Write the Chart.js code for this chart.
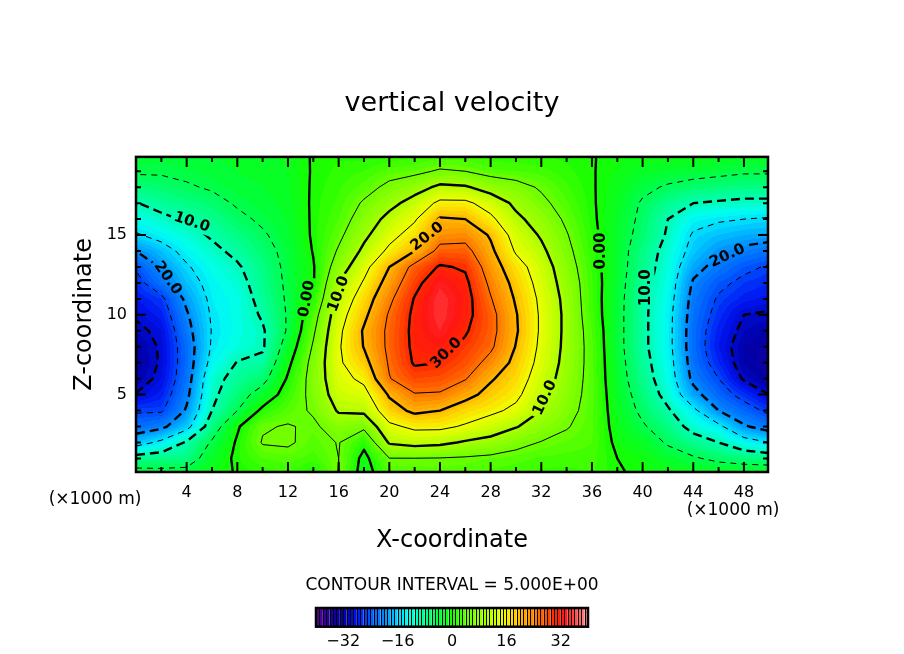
<!DOCTYPE html>
<html>
<head>
<meta charset="utf-8">
<title>vertical velocity</title>
<script src="https://cdn.jsdelivr.net/npm/chart.js@4.4.1/dist/chart.umd.min.js"></script>
<style>
  html, body { margin: 0; padding: 0; background: #fff; }
</style>
</head>
<body>
<canvas id="w_chart" width="904" height="654"></canvas>
<script>
// grid of the field: x every 2 km, z every 1 km (values in m/s)
const xGrid = [0, 2, 4, 6, 8, 10, 12, 14, 16, 18, 20, 22, 24, 26, 28, 30, 32, 34, 36, 38, 40, 42, 44, 46, 48, 50];
const zGrid = [0, 1, 2, 3, 4, 5, 6, 7, 8, 9, 10, 11, 12, 13, 14, 15, 16, 17, 18, 19, 20];

const wz00 = [-3, -3.5, -3, -1, 0.2, 1, 2, -0.5, 5.2, -2, 3, 3, 3.5, 3, 2.5, 2, 1.5, 1.5, 2, 0.3, -0.5, -1, -1, -1.5, -1.5, -1.5];
const wz01 = [-8, -7.5, -7.5, -2.5, 0.8, 3, 3.5, 2.5, 5, -1.2, 4.9, 4.9, 4.8, 4.5, 4, 3.5, 2.8, 2.5, 2.5, 0, -1, -3, -4.5, -6, -7, -7.5];
const wz02 = [-17, -14, -9.5, -4.5, 0.5, 5.3, 5.6, 3.5, 5.2, 1, 10.5, 11.5, 11, 9.5, 8.5, 6.3, 4.8, 3.8, 3, -0.8, -2.5, -5.5, -8, -10, -13, -15];
const wz03 = [-22.5, -21, -16.5, -7.5, -0.5, 4.6, 5.3, 4.3, 7, 6, 14, 16, 16, 14.5, 12.5, 10.3, 7.5, 5.3, 3.2, -1.5, -4.5, -7.5, -11.5, -14, -19.5, -22];
const wz04 = [-25.5, -25.5, -19.5, -10, -5, 1, 3.5, 5.5, 10.5, 11, 18, 21, 20, 17.5, 16, 14, 10, 6.5, 3.3, -2, -6, -9.5, -14, -20, -23, -26];
const wz05 = [-29.8, -27.5, -21, -11, -7, -3, 2, 6.3, 12.5, 13.5, 20.5, 24.7, 24.5, 21.5, 18.5, 16, 11.5, 7.3, 3.4, -2.5, -7, -11.5, -18.5, -23, -26.5, -30];
const wz06 = [-32, -29, -22, -11.5, -8.5, -6.5, 0.5, 6.8, 13.5, 16, 24.8, 28, 27.5, 25.3, 20.5, 17.5, 12.5, 8, 3.4, -3, -8, -12.5, -21, -25, -30.5, -33];
const wz07 = [-33, -29.5, -22.5, -13.5, -9.8, -9, -1, 6.5, 14.3, 18.5, 25.5, 30.5, 30, 27.5, 23.5, 18.7, 13.5, 8.5, 3.4, -3.3, -8.5, -13, -22, -27, -32, -34];
const wz08 = [-32.5, -29.5, -22.5, -14.5, -12, -10.5, -2.8, 5.5, 14.5, 20.2, 26, 31, 32, 29, 25.8, 19.8, 14, 8.8, 3.3, -3.6, -9, -13.5, -22.5, -28, -32, -33.5];
const wz09 = [-31, -29, -21.5, -14.8, -12.5, -10.5, -4.5, 4.3, 14, 20.5, 26, 31.2, 34, 30.5, 26.5, 20.5, 14.3, 8.9, 3, -3.6, -9, -13.5, -22.5, -27.5, -31, -32];
const wz10 = [-29.5, -27.5, -20.5, -14.5, -12.5, -9.5, -4.6, 3, 13, 19, 25.5, 31, 35, 31.5, 26.5, 20.3, 14.3, 8.9, 2.4, -3.6, -9, -13.5, -22, -26.5, -30, -30.5];
const wz11 = [-28, -26, -19, -14, -12.5, -8.5, -4.4, 1, 11.5, 17.5, 24, 30.3, 35, 31.8, 25.3, 19.5, 14, 8.6, 2.2, -3.5, -9, -13, -21.5, -25.5, -27.5, -28.5];
const wz12 = [-26.5, -22, -17, -13.5, -11.5, -8, -4.2, -0.3, 10, 15.5, 22, 28.5, 33.5, 31, 24, 18.5, 13.2, 8, 2.2, -3.3, -8.5, -12.5, -20.5, -24, -26, -27];
const wz13 = [-24.5, -19.5, -15.5, -12.5, -10.5, -7.5, -4, -0.3, 7.5, 13.5, 20, 26.5, 30.5, 29.5, 22.5, 17, 12.5, 7.2, 1.8, -3, -8, -12, -18.5, -21.5, -24, -25.5];
const wz14 = [-20, -17, -13.5, -11, -9, -6.5, -3.8, 0.2, 5.5, 11, 16, 20, 26.5, 26.5, 21, 14.5, 11, 6.2, 1.4, -3, -7.5, -11.5, -16.5, -19.5, -21, -22];
const wz15 = [-15.5, -13.5, -11.5, -9.5, -7.5, -5.5, -3.2, 0.5, 4, 9, 13.5, 17, 23, 23.5, 19.5, 13, 9.5, 5.3, 1, -2.8, -6.5, -10.5, -15.5, -17, -18, -18.5];
const wz16 = [-12.5, -11, -9.5, -8, -6, -4.3, -2.8, 0.5, 3, 7, 11.5, 14.5, 20.5, 20, 16, 11, 8, 4.2, 0.6, -2.5, -6, -10, -13.5, -14.5, -15, -15.5];
const wz17 = [-10.2, -8.5, -7.5, -6.5, -4.5, -3.5, -2.5, 0.5, 2.3, 5.5, 8.5, 12, 16, 16, 13, 9, 6, 3.2, 0.4, -2.2, -5.5, -8, -10, -10.5, -11, -11];
const wz18 = [-7, -6.5, -5.5, -4.5, -3.5, -3, -2.2, 0.4, 1.8, 3.5, 6, 8, 11, 10.5, 8, 6.5, 4.5, 2.2, 0.3, -1.8, -4, -5.5, -6.5, -7, -7.5, -7.5];
const wz19 = [-4.5, -4.5, -4, -3.5, -3, -2.5, -2, 0.3, 1.3, 2, 3.5, 4, 5.5, 5, 3.5, 3, 2.5, 1.3, 0.2, -1.2, -2.5, -3, -3.5, -4, -4.5, -4.5];
const wz20 = [-3, -3.5, -3.5, -3, -2.5, -2.2, -1.8, 0.3, 0.8, 0.5, 1, 1.5, 2, 2, 1, 1, 1, 0.6, 0.1, -0.5, -1, -1, -1, -1.5, -2, -2];

const wRows = [wz00, wz01, wz02, wz03, wz04, wz05, wz06, wz07, wz08, wz09, wz10,
               wz11, wz12, wz13, wz14, wz15, wz16, wz17, wz18, wz19, wz20];

const levels = [-35, -30, -25, -20, -15, -10, -5, 0, 5, 10, 15, 20, 25, 30, 35];

const xTickLabels = [4, 8, 12, 16, 20, 24, 28, 32, 36, 40, 44, 48];
const xTickMarks = [2, 4, 6, 8, 10, 12, 14, 16, 18, 20, 22, 24, 26, 28, 30, 32, 34, 36, 38, 40, 42, 44, 46, 48];
const yTickLabels = [5, 10, 15];
const yTickMarks = [1, 2, 3, 4, 5, 6, 7, 8, 9, 10, 11, 12, 13, 14, 15, 16, 17, 18, 19];
const cbTicks = [-32, -16, 0, 16, 32];

// labels written on the contour lines
const lineLabels = [
  { text: '10.0', x: 4.4, z: 15.8, angle: 18 },
  { text: '20.0', x: 2.5, z: 12.3, angle: 55 },
  { text: '0.00', x: 13.5, z: 11.0, angle: -80 },
  { text: '10.0', x: 16.0, z: 11.3, angle: -70 },
  { text: '20.0', x: 23.0, z: 14.9, angle: -38 },
  { text: '30.0', x: 24.5, z: 7.6, angle: -45 },
  { text: '10.0', x: 32.3, z: 4.8, angle: -65 },
  { text: '0.00', x: 36.7, z: 14.0, angle: -90 },
  { text: '10.0', x: 40.3, z: 11.7, angle: -90 },
  { text: '20.0', x: 46.7, z: 13.7, angle: -25 }
];

// colour table
const cmapVals = [-40, -36, -32, -28, -24, -20, -16, -13, -8, -4, 0, 5, 10, 15, 18, 22, 26, 30, 33, 36, 40];
const cmapR = [100, 30, 0, 0, 0, 0, 0, 0, 0, 0, 20, 110, 170, 240, 255, 255, 255, 255, 255, 255, 255];
const cmapG = [0, 0, 0, 20, 90, 140, 210, 255, 255, 255, 255, 255, 255, 255, 210, 160, 100, 40, 20, 70, 150];
const cmapB = [160, 150, 170, 240, 255, 255, 255, 240, 140, 60, 0, 0, 0, 0, 0, 0, 0, 0, 20, 70, 150];

const FONT = "'DejaVu Sans', 'Liberation Sans', sans-serif";

function rgbAt(v) {
  let k = 0;
  while (k < cmapVals.length - 2 && v > cmapVals[k + 1]) k++;
  const t = Math.max(0, Math.min(1, (v - cmapVals[k]) / (cmapVals[k + 1] - cmapVals[k])));
  return [
    Math.round(cmapR[k] + (cmapR[k + 1] - cmapR[k]) * t),
    Math.round(cmapG[k] + (cmapG[k + 1] - cmapG[k]) * t),
    Math.round(cmapB[k] + (cmapB[k + 1] - cmapB[k]) * t)
  ];
}

// one colour per unit step, -40 .. 40
const lut = [];
for (let k = 0; k < 80; k++) lut.push(rgbAt(-40 + k + 0.5));

function binColour(v) {
  let k = Math.floor(v) + 40;
  if (k < 0) k = 0;
  if (k > 79) k = 79;
  return lut[k];
}

function wAt(x, z) {
  let i = Math.floor((x - xGrid[0]) / (xGrid[1] - xGrid[0]));
  let j = Math.floor((z - zGrid[0]) / (zGrid[1] - zGrid[0]));
  i = Math.max(0, Math.min(xGrid.length - 2, i));
  j = Math.max(0, Math.min(zGrid.length - 2, j));
  const tx = (x - xGrid[i]) / (xGrid[i + 1] - xGrid[i]);
  const tz = (z - zGrid[j]) / (zGrid[j + 1] - zGrid[j]);
  const a = wRows[j][i], b = wRows[j][i + 1], c = wRows[j + 1][i], d = wRows[j + 1][i + 1];
  return (a * (1 - tx) + b * tx) * (1 - tz) + (c * (1 - tx) + d * tx) * tz;
}

// marching squares, segments chained into lines so the dashes run on
function edgePoint(key, level) {
  const p = key.split(',');
  const i = +p[1], j = +p[2];
  let x0 = xGrid[i], z0 = zGrid[j], x1, z1, v0 = wRows[j][i], v1;
  if (p[0] === 'h') { x1 = xGrid[i + 1]; z1 = z0; v1 = wRows[j][i + 1]; }
  else { x1 = x0; z1 = zGrid[j + 1]; v1 = wRows[j + 1][i]; }
  const t = (level - v0) / (v1 - v0);
  return [x0 + (x1 - x0) * t, z0 + (z1 - z0) * t];
}

function contourLines(level) {
  const segs = [];
  for (let j = 0; j < zGrid.length - 1; j++) {
    for (let i = 0; i < xGrid.length - 1; i++) {
      const v0 = wRows[j][i], v1 = wRows[j][i + 1], v2 = wRows[j + 1][i + 1], v3 = wRows[j + 1][i];
      const idx = (v0 > level ? 1 : 0) | (v1 > level ? 2 : 0) | (v2 > level ? 4 : 0) | (v3 > level ? 8 : 0);
      if (idx === 0 || idx === 15) continue;
      const E = ['h,' + i + ',' + j, 'v,' + (i + 1) + ',' + j, 'h,' + i + ',' + (j + 1), 'v,' + i + ',' + j];
      const centre = (v0 + v1 + v2 + v3) / 4 > level;
      let pairs;
      switch (idx) {
        case 1: case 14: pairs = [[3, 0]]; break;
        case 2: case 13: pairs = [[0, 1]]; break;
        case 3: case 12: pairs = [[3, 1]]; break;
        case 4: case 11: pairs = [[1, 2]]; break;
        case 6: case 9: pairs = [[0, 2]]; break;
        case 7: case 8: pairs = [[3, 2]]; break;
        case 5: pairs = centre ? [[0, 1], [2, 3]] : [[3, 0], [1, 2]]; break;
        case 10: pairs = centre ? [[3, 0], [1, 2]] : [[0, 1], [2, 3]]; break;
      }
      pairs.forEach(p => segs.push([E[p[0]], E[p[1]]]));
    }
  }
  const byKey = new Map();
  segs.forEach((s, n) => s.forEach(k => {
    if (!byKey.has(k)) byKey.set(k, []);
    byKey.get(k).push(n);
  }));
  const used = new Array(segs.length).fill(false);
  const lines = [];
  for (let n = 0; n < segs.length; n++) {
    if (used[n]) continue;
    used[n] = true;
    const chain = [segs[n][0], segs[n][1]];
    for (let dir = 0; dir < 2; dir++) {
      let grow = true;
      while (grow) {
        grow = false;
        const end = dir === 0 ? chain[chain.length - 1] : chain[0];
        for (const m of byKey.get(end)) {
          if (used[m]) continue;
          used[m] = true;
          const next = segs[m][0] === end ? segs[m][1] : segs[m][0];
          if (dir === 0) chain.push(next); else chain.unshift(next);
          grow = true;
          break;
        }
      }
    }
    lines.push(chain.map(k => edgePoint(k, level)));
  }
  return lines;
}

const contours = levels.map(l => ({ level: l, lines: contourLines(l) }));

const LABEL_FONT = 'bold 15px ' + FONT;

const fieldPlugin = {
  id: 'field',
  beforeDatasetsDraw(chart) {
    const { ctx, chartArea: a, scales: { x, y } } = chart;
    const left = Math.round(a.left), top = Math.round(a.top);
    const w = Math.round(a.right) - left, h = Math.round(a.bottom) - top;
    const img = ctx.createImageData(w, h);
    const xv = [];
    for (let px = 0; px < w; px++) xv.push(x.getValueForPixel(left + px + 0.5));
    for (let py = 0; py < h; py++) {
      const z = y.getValueForPixel(top + py + 0.5);
      for (let px = 0; px < w; px++) {
        const c = binColour(wAt(xv[px], z));
        const o = (py * w + px) * 4;
        img.data[o] = c[0];
        img.data[o + 1] = c[1];
        img.data[o + 2] = c[2];
        img.data[o + 3] = 255;
      }
    }
    ctx.putImageData(img, left, top);

    // contour lines, with gaps left for their labels
    ctx.save();
    ctx.font = LABEL_FONT;
    ctx.beginPath();
    ctx.rect(a.left, a.top, a.right - a.left, a.bottom - a.top);
    lineLabels.forEach(lb => {
      const cx = x.getPixelForValue(lb.x), cy = y.getPixelForValue(lb.z);
      const tw = ctx.measureText(lb.text).width + 6, th = 16;
      const r = lb.angle * Math.PI / 180, c = Math.cos(r), s = Math.sin(r);
      const pts = [[-tw / 2, -th / 2], [tw / 2, -th / 2], [tw / 2, th / 2], [-tw / 2, th / 2]]
        .map(([u, v]) => [cx + u * c - v * s, cy + u * s + v * c]);
      ctx.moveTo(pts[0][0], pts[0][1]);
      for (let k = 1; k < 4; k++) ctx.lineTo(pts[k][0], pts[k][1]);
      ctx.closePath();
    });
    ctx.clip('evenodd');
    ctx.strokeStyle = '#000';
    ctx.lineJoin = 'round';
    contours.forEach(ct => {
      const thick = ct.level % 10 === 0;
      ctx.lineWidth = thick ? 2.4 : 1;
      ctx.setLineDash(ct.level < 0 ? (thick ? [9, 5] : [6, 5]) : []);
      ct.lines.forEach(line => {
        ctx.beginPath();
        line.forEach((p, k) => {
          const px = x.getPixelForValue(p[0]), py = y.getPixelForValue(p[1]);
          if (k === 0) ctx.moveTo(px, py); else ctx.lineTo(px, py);
        });
        ctx.stroke();
      });
    });
    ctx.restore();

    ctx.save();
    ctx.font = LABEL_FONT;
    ctx.fillStyle = '#000';
    ctx.textAlign = 'center';
    ctx.textBaseline = 'middle';
    lineLabels.forEach(lb => {
      ctx.save();
      ctx.translate(x.getPixelForValue(lb.x), y.getPixelForValue(lb.z));
      ctx.rotate(lb.angle * Math.PI / 180);
      ctx.fillText(lb.text, 0, 0);
      ctx.restore();
    });
    ctx.restore();
  },
  afterDraw(chart) {
    const { ctx, chartArea: a, scales: { x, y } } = chart;
    ctx.save();
    ctx.strokeStyle = '#000';
    // inward tick marks on all four sides
    ctx.lineWidth = 2;
    ctx.beginPath();
    xTickMarks.forEach(v => {
      const px = x.getPixelForValue(v);
      const len = xTickLabels.includes(v) ? 10 : 5;
      ctx.moveTo(px, a.bottom); ctx.lineTo(px, a.bottom - len);
      ctx.moveTo(px, a.top); ctx.lineTo(px, a.top + len);
    });
    yTickMarks.forEach(v => {
      const py = y.getPixelForValue(v);
      const len = yTickLabels.includes(v) ? 10 : 5;
      ctx.moveTo(a.left, py); ctx.lineTo(a.left + len, py);
      ctx.moveTo(a.right, py); ctx.lineTo(a.right - len, py);
    });
    ctx.stroke();
    ctx.lineWidth = 2.5;
    ctx.strokeRect(a.left, a.top, a.right - a.left, a.bottom - a.top);

    // unit notes and contour interval
    ctx.fillStyle = '#000';
    ctx.textAlign = 'center';
    ctx.textBaseline = 'middle';
    ctx.font = '17px ' + FONT;
    ctx.fillText('(×1000 m)', a.left - 41, a.bottom + 28);
    ctx.fillText('(×1000 m)', a.right - 35, a.bottom + 39);
    const mid = (a.left + a.right) / 2;
    ctx.fillText('CONTOUR INTERVAL = 5.000E+00', mid, a.bottom + 114);

    // colour bar
    const cbW = 272, cbH = 18.7, cbL = mid - cbW / 2, cbT = a.bottom + 136;
    const step = cbW / lut.length;
    lut.forEach((c, k) => {
      ctx.fillStyle = 'rgb(' + c[0] + ',' + c[1] + ',' + c[2] + ')';
      ctx.fillRect(cbL + k * step, cbT, step, cbH);
    });
    ctx.strokeStyle = '#000';
    ctx.lineWidth = 1;
    ctx.beginPath();
    for (let k = 1; k < lut.length; k++) {
      const px = Math.round(cbL + k * step) + 0.5;
      ctx.moveTo(px, cbT); ctx.lineTo(px, cbT + cbH);
    }
    ctx.stroke();
    ctx.lineWidth = 2.5;
    ctx.strokeRect(cbL, cbT, cbW, cbH);
    ctx.fillStyle = '#000';
    ctx.font = '16px ' + FONT;
    cbTicks.forEach(v => {
      const px = cbL + (v + 40) / 80 * cbW;
      ctx.fillText(v < 0 ? '\u2212' + Math.abs(v) : String(v), px, cbT + cbH + 15);
    });
    ctx.restore();
  }
};

Chart.defaults.font.family = FONT;
Chart.defaults.color = '#000';

new Chart(document.getElementById('w_chart'), {
  type: 'scatter',
  data: { datasets: [{ label: 'w', data: [], pointRadius: 0 }] },
  options: {
    responsive: false,
    devicePixelRatio: 1,
    animation: false,
    layout: { padding: { left: 0, right: 136, top: 0, bottom: 92 } },
    plugins: {
      legend: { display: false },
      tooltip: { enabled: false },
      title: {
        display: true,
        text: 'vertical velocity',
        fullSize: false,
        color: '#000',
        font: { size: 27, weight: 'normal' },
        padding: { top: 87.5, bottom: 37 }
      }
    },
    scales: {
      x: {
        type: 'linear',
        min: 0,
        max: 49.9,
        grid: { display: false },
        border: { display: false },
        afterBuildTicks: s => { s.ticks = xTickLabels.map(v => ({ value: v })); },
        afterFit: s => { s.height = 90; },
        ticks: { autoSkip: false, maxRotation: 0, padding: 3, color: '#000', font: { size: 16 } },
        title: { display: true, text: 'X-coordinate', color: '#000', font: { size: 24 }, padding: { top: 0, bottom: 7 } }
      },
      y: {
        type: 'linear',
        min: 0.15,
        max: 19.9,
        grid: { display: false },
        border: { display: false },
        afterBuildTicks: s => { s.ticks = yTickLabels.map(v => ({ value: v })); },
        afterFit: s => { s.width = 136; },
        ticks: { padding: 1, color: '#000', font: { size: 16 } },
        title: { display: true, text: 'Z-coordinate', color: '#000', font: { size: 24 }, padding: { top: 70, bottom: 0 } }
      }
    }
  },
  plugins: [fieldPlugin]
});
</script>
</body>
</html>
